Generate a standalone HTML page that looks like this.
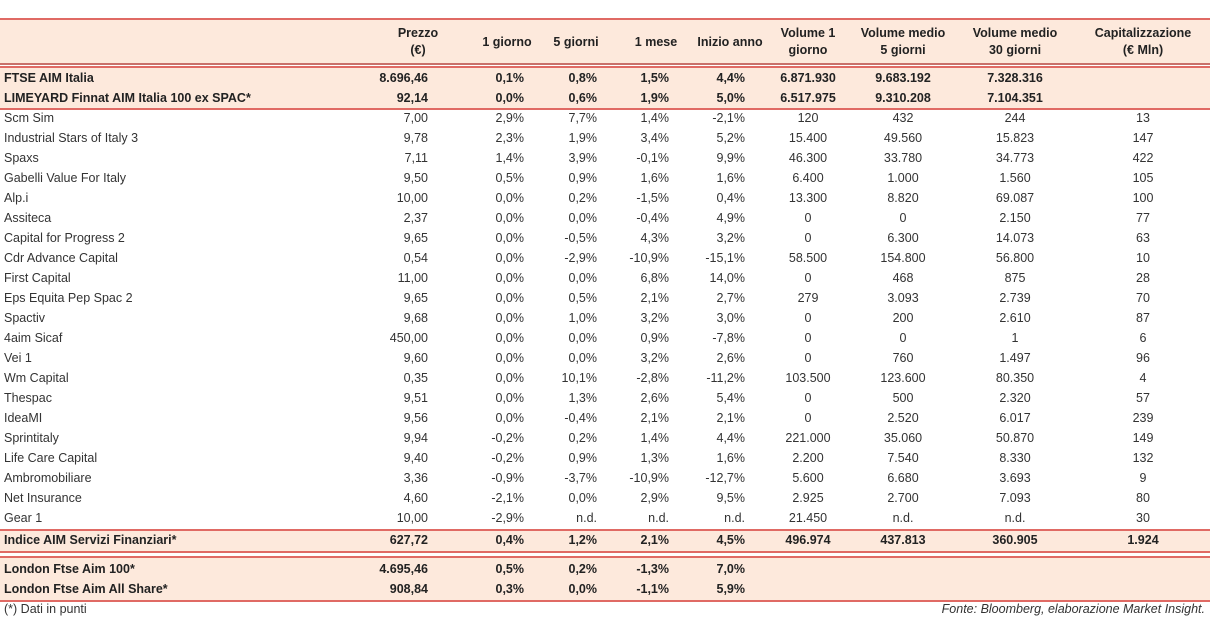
<!DOCTYPE html>
<html><head><meta charset="utf-8">
<style>
body{margin:0;width:1210px;height:621px;background:#fff;position:relative;overflow:hidden;font-family:"Liberation Sans",sans-serif;color:#333;}
.band{position:absolute;left:0;width:1210px;background:#fde9dc;}
.ln{position:absolute;left:0;width:1210px;background:#e06a64;}
.c{position:absolute;font-size:12.5px;line-height:20px;white-space:nowrap;}
.b{font-weight:bold;color:#222;font-size:12.5px;}
.h{position:absolute;font-size:12.5px;font-weight:bold;color:#222;text-align:center;line-height:17px;white-space:nowrap;}
</style></head><body>
<div class="band" style="top:19px;height:45px"></div>
<div class="band" style="top:67px;height:42px"></div>
<div class="band" style="top:531px;height:20px"></div>
<div class="band" style="top:557px;height:43px"></div>
<div class="ln" style="top:18px;height:2px"></div>
<div class="ln" style="top:63px;height:2px;background:#c9706a"></div>
<div class="ln" style="top:66px;height:2px"></div>
<div class="ln" style="top:108px;height:2px"></div>
<div class="ln" style="top:529px;height:2px"></div>
<div class="ln" style="top:551px;height:2px"></div>
<div class="ln" style="top:556px;height:2px"></div>
<div class="ln" style="top:600px;height:2px"></div>

<div class="h" style="left:378px;width:80px;top:25px">Prezzo<br>(€)</div>
<div class="h" style="left:467px;width:80px;top:34px">1 giorno</div>
<div class="h" style="left:536px;width:80px;top:34px">5 giorni</div>
<div class="h" style="left:616px;width:80px;top:34px">1 mese</div>
<div class="h" style="left:690px;width:80px;top:34px">Inizio anno</div>
<div class="h" style="left:763px;width:90px;top:25px">Volume 1<br>giorno</div>
<div class="h" style="left:853px;width:100px;top:25px">Volume medio<br>5 giorni</div>
<div class="h" style="left:965px;width:100px;top:25px">Volume medio<br>30 giorni</div>
<div class="h" style="left:1083px;width:120px;top:25px">Capitalizzazione<br>(€ Mln)</div>

<div id="rows"></div>
<div class="c" style="left:4px;top:599px">(*) Dati in punti</div>
<div class="c" style="right:5px;top:599px;font-style:italic">Fonte: Bloomberg, elaborazione Market Insight.</div>

<script>
const names=["FTSE AIM Italia","LIMEYARD Finnat AIM Italia 100 ex SPAC*","Scm Sim","Industrial Stars of Italy 3","Spaxs","Gabelli Value For Italy","Alp.i","Assiteca","Capital for Progress 2","Cdr Advance Capital","First Capital","Eps Equita Pep Spac 2","Spactiv","4aim Sicaf","Vei 1","Wm Capital","Thespac","IdeaMI","Sprintitaly","Life Care Capital","Ambromobiliare","Net Insurance","Gear 1","Indice AIM Servizi Finanziari*","London Ftse Aim 100*","London Ftse Aim All Share*"];
const prezzo=["8.696,46","92,14","7,00","9,78","7,11","9,50","10,00","2,37","9,65","0,54","11,00","9,65","9,68","450,00","9,60","0,35","9,51","9,56","9,94","9,40","3,36","4,60","10,00","627,72","4.695,46","908,84"];
const g1=["0,1%","0,0%","2,9%","2,3%","1,4%","0,5%","0,0%","0,0%","0,0%","0,0%","0,0%","0,0%","0,0%","0,0%","0,0%","0,0%","0,0%","0,0%","-0,2%","-0,2%","-0,9%","-2,1%","-2,9%","0,4%","0,5%","0,3%"];
const g5=["0,8%","0,6%","7,7%","1,9%","3,9%","0,9%","0,2%","0,0%","-0,5%","-2,9%","0,0%","0,5%","1,0%","0,0%","0,0%","10,1%","1,3%","-0,4%","0,2%","0,9%","-3,7%","0,0%","n.d.","1,2%","0,2%","0,0%"];
const m1=["1,5%","1,9%","1,4%","3,4%","-0,1%","1,6%","-1,5%","-0,4%","4,3%","-10,9%","6,8%","2,1%","3,2%","0,9%","3,2%","-2,8%","2,6%","2,1%","1,4%","1,3%","-10,9%","2,9%","n.d.","2,1%","-1,3%","-1,1%"];
const ytd=["4,4%","5,0%","-2,1%","5,2%","9,9%","1,6%","0,4%","4,9%","3,2%","-15,1%","14,0%","2,7%","3,0%","-7,8%","2,6%","-11,2%","5,4%","2,1%","4,4%","1,6%","-12,7%","9,5%","n.d.","4,5%","7,0%","5,9%"];
const vol1=["6.871.930","6.517.975","120","15.400","46.300","6.400","13.300","0","0","58.500","0","279","0","0","0","103.500","0","0","221.000","2.200","5.600","2.925","21.450","496.974","",""];
const vol5=["9.683.192","9.310.208","432","49.560","33.780","1.000","8.820","0","6.300","154.800","468","3.093","200","0","760","123.600","500","2.520","35.060","7.540","6.680","2.700","n.d.","437.813","",""];
const vol30=["7.328.316","7.104.351","244","15.823","34.773","1.560","69.087","2.150","14.073","56.800","875","2.739","2.610","1","1.497","80.350","2.320","6.017","50.870","8.330","3.693","7.093","n.d.","360.905","",""];
const cap=["","","13","147","422","105","100","77","63","10","28","70","87","6","96","4","57","239","149","132","9","80","30","1.924","",""];
const bold=[1,1,0,0,0,0,0,0,0,0,0,0,0,0,0,0,0,0,0,0,0,0,0,1,1,1];
const root=document.getElementById('rows');
function rowTop(i){return i<23?68+i*20:(i===23?530:559+(i-24)*20);}
function cell(txt,style,isBold){
  const d=document.createElement('div');
  d.className='c'+(isBold?' b':'');
  d.textContent=txt;
  d.style.cssText+=style;
  root.appendChild(d);
  return d;
}
names.forEach((n,i)=>{
  const t=rowTop(i), b=bold[i];
  const slug=n.toLowerCase().replace(/[^a-z0-9]+/g,'-').replace(/-+$/,'');
  let d=cell(n,`left:4px;top:${t}px;`,b);
  
  
  const right=[[prezzo,428,'prezzo'],[g1,524,'1-giorno'],[g5,597,'5-giorni'],[m1,669,'1-mese'],[ytd,745,'inizio-anno']];
  right.forEach(([arr,r,k])=>{
    d=cell(arr[i],`right:${1210-r}px;top:${t}px;`,b);
    
    
  });
  const center=[[vol1,808,'volume-1-giorno'],[vol5,903,'volume-medio-5'],[vol30,1015,'volume-medio-30'],[cap,1143,'capitalizzazione']];
  center.forEach(([arr,cx,k])=>{
    d=cell(arr[i],`left:${cx-60}px;width:120px;text-align:center;top:${t}px;`,b);
    
    
  });
});
</script>
</body></html>
